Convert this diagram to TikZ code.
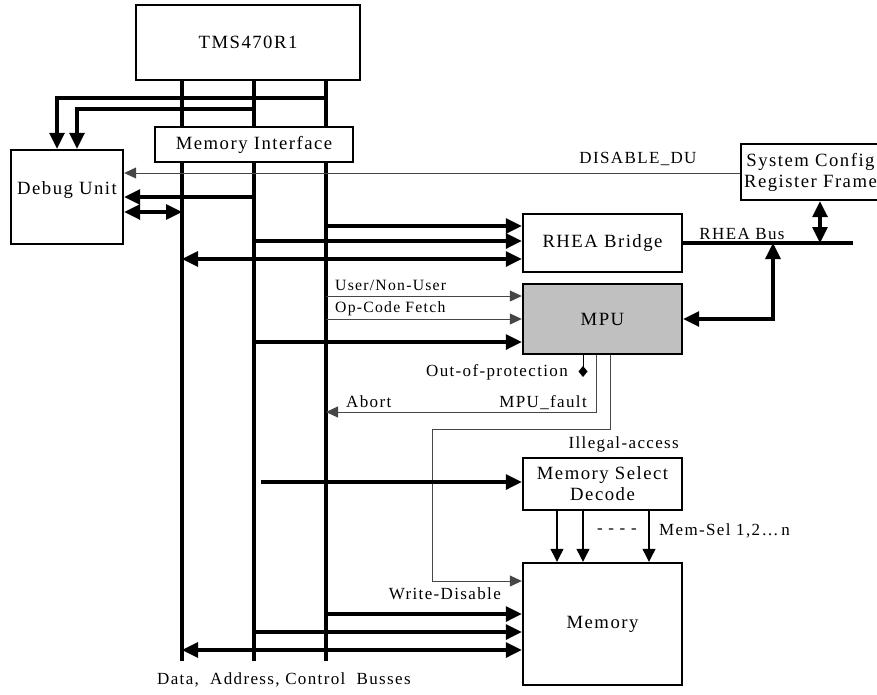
\documentclass[tikz,border=0pt]{standalone}
\usepackage{fontspec}
\setmainfont{Liberation Serif}[LetterSpace=8]
\usetikzlibrary{arrows.meta, positioning}
\definecolor{mpugray}{RGB}{192,192,192}
\definecolor{thinline}{RGB}{70,70,70}
\newcommand{\bigfont}{\fontsize{18.7}{21}\selectfont}
\newcommand{\lblfont}{\fontsize{17}{19}\selectfont}
\newcommand{\smallfont}{\fontsize{15.7}{18}\selectfont}

\begin{document}
\begin{tikzpicture}[x=1pt, y=-1pt,
    block/.style={draw, line width=2.4pt, fill=white, inner sep=0pt,
                  align=center, font=\bigfont},
    bus/.style={line width=3.2pt},
    busarrow/.style={line width=3.2pt, -{Triangle[length=16pt,width=15pt]}},
    busboth/.style={line width=3.2pt,
                    {Triangle[length=16pt,width=15pt]}-{Triangle[length=16pt,width=15pt]}},
    sig/.style={line width=1pt, draw=thinline, -{Triangle[length=12pt,width=11pt]}},
    selarrow/.style={line width=1.2pt, -{Triangle[length=13pt,width=13pt]}},
    lbl/.style={font=\lblfont, inner sep=0pt}
]
    \useasboundingbox (0,0) rectangle (877,694);

    % Processor and busses
    \node[block, minimum width=224, minimum height=75] (tms) at (248,42.5) {TMS470R1};
    \coordinate (dbus) at (182,661);
    \coordinate (abus) at (254,661);
    \coordinate (cbus) at (326,661);
    \draw[bus] (tms.south -| dbus) -- (dbus);
    \draw[bus] (tms.south -| abus) -- (abus);
    \draw[bus] (tms.south -| cbus) -- (cbus);
    \node[block, minimum width=198, minimum height=35] (memif) at (254,144.5) {Memory Interface};

    % Other blocks
    \node[block, minimum width=112, minimum height=94,
          label={[font=\bigfont, yshift=7pt]center:Debug Unit}] (debug) at (67,197) {};
    \node[block, minimum width=159, minimum height=58] (rhea) at (602.5,243) {RHEA Bridge};
    \node[block, minimum width=159, minimum height=70, fill=mpugray] (mpu) at (602.5,319) {MPU};
    \node[block, minimum width=139, minimum height=56] (sysconf) at (810.5,172) {System Config\\Register Frame};
    \node[block, minimum width=159, minimum height=52] (msd) at (602.5,484) {Memory Select\\Decode};
    \node[block, minimum width=159, minimum height=122] (memory) at (602.5,624) {Memory};

    % Debug unit connections
    \coordinate (du1) at (57,98);
    \coordinate (du2) at (77,109);
    \coordinate (du3) at (0,197);
    \coordinate (du4) at (0,212);
    \coordinate (dis) at (0,173);
    \draw[busarrow] (cbus |- du1) -- (du1) -- (du1 |- debug.north);
    \draw[busarrow] (abus |- du2) -- (du2) -- (du2 |- debug.north);
    \draw[sig] (sysconf.west |- dis) -- (debug.east |- dis);
    \draw[busarrow] (abus |- du3) -- (debug.east |- du3);
    \draw[busboth] (debug.east |- du4) -- (dbus |- du4);
    \node[lbl, anchor=base] (disable) at (638,163) {DISABLE\_DU};

    % RHEA bridge and bus
    \coordinate (r1) at (0,226);
    \coordinate (r2) at (0,241);
    \coordinate (r3) at (0,259);
    \draw[busarrow] (cbus |- r1) -- (rhea.west |- r1);
    \draw[busarrow] (abus |- r2) -- (rhea.west |- r2);
    \draw[busboth] (dbus |- r3) -- (rhea.west |- r3);
    \coordinate (rbusend) at (853,243);
    \draw[bus] (rhea.east) -- (rbusend);
    \node[lbl, anchor=base] (rheabus) at (742,239) {RHEA Bus};
    \coordinate (sc) at (820,243);
    \draw[busboth] (sysconf.south -| sc) -- (sc);

    % MPU inputs
    \coordinate (m1) at (0,296);
    \coordinate (m2) at (0,319);
    \coordinate (m3) at (0,342);
    \draw[sig] (cbus |- m1) -- (mpu.west |- m1);
    \draw[sig] (cbus |- m2) -- (mpu.west |- m2);
    \draw[busarrow] (abus |- m3) -- (mpu.west |- m3);
    \node[lbl, font=\smallfont, anchor=base west] (usr) at (335,290) {User/Non-User};
    \node[lbl, font=\smallfont, anchor=base west] (opc) at (335,312) {Op-Code Fetch};
    \coordinate (mb) at (773,243);
    \draw[busboth] (mpu.east) -- (mb |- m2) -- (mb);

    % MPU outputs
    \coordinate (oop) at (583,377);
    \draw[line width=1pt, -{Diamond[length=11pt,width=9pt]}] (mpu.south -| oop) -- (oop);
    \node[lbl, anchor=east] (ooplbl) at (568,372) {Out-of-protection};
    \coordinate (mf) at (596,412);
    \draw[sig] (mpu.south -| mf) -- (mf) -- (cbus |- mf);
    \node[lbl, anchor=base west] (abort) at (346,407) {Abort};
    \node[lbl, anchor=base east] (fault) at (587,407) {MPU\_fault};
    \coordinate (il1) at (610,429);
    \coordinate (il2) at (432,581);
    \draw[sig] (mpu.south -| il1) -- (il1) -- (il2 |- il1) -- (il2) -- (memory.west |- il2);
    \node[lbl, anchor=base east] (illegal) at (679,448) {Illegal-access};
    \node[lbl, anchor=base east] (wdis) at (501,599) {Write-Disable};

    % Memory select and memory
    \coordinate (ms1) at (261,482);
    \draw[busarrow] (ms1) -- (msd.west |- ms1);
    \foreach \x in {557,583,649}
        \draw[selarrow] (msd.south -| \x,0) -- (memory.north -| \x,0);
    \node[lbl, anchor=west] (dashes) at (597,531) {- - - -};
    \node[lbl, anchor=west] (memsel) at (659,531) {Mem-Sel 1,2…\,n};
    \coordinate (me1) at (0,614);
    \coordinate (me2) at (0,632);
    \coordinate (me3) at (0,650);
    \draw[busarrow] (cbus |- me1) -- (memory.west |- me1);
    \draw[busarrow] (abus |- me2) -- (memory.west |- me2);
    \draw[busboth] (dbus |- me3) -- (memory.west |- me3);

    % Label
    \node[lbl, anchor=base west] (busses) at (157,684) {Data,\ \ Address, Control\ \ Busses};
\end{tikzpicture}
\end{document}
